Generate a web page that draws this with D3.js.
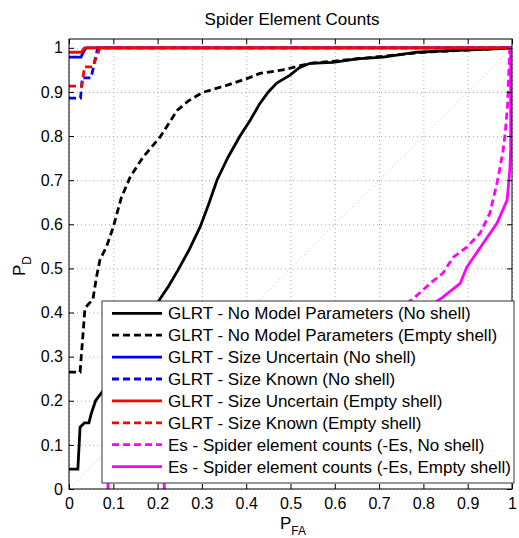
<!DOCTYPE html>
<html>
<head>
<meta charset="utf-8">
<script src="https://cdn.jsdelivr.net/npm/d3@7"></script>
<style>
  body { margin: 0; background: #fff; }
  svg { font-family: "Liberation Sans", Arial, sans-serif; }
</style>
</head>
<body>
<svg width="519" height="538"></svg>
<script>
var svg = d3.select('svg');

// tick values / labels
var xTicks = [0, 0.1, 0.2, 0.3, 0.4, 0.5, 0.6, 0.7, 0.8, 0.9, 1];
var yTicks = [0, 0.1, 0.2, 0.3, 0.4, 0.5, 0.6, 0.7, 0.8, 0.9, 1];
var xTickLabels = ['0', '0.1', '0.2', '0.3', '0.4', '0.5', '0.6', '0.7', '0.8', '0.9', '1'];
var yTickLabels = ['0', '0.1', '0.2', '0.3', '0.4', '0.5', '0.6', '0.7', '0.8', '0.9', '1'];

// ROC curves, [PFA, PD]
var glrtNoParamNoShell = [[0,0.045],[0.02,0.045],[0.025,0.14],[0.035,0.15],[0.045,0.15],[0.05,0.17],[0.06,0.2],[0.075,0.22],
  [0.14,0.33],[0.205,0.43],[0.225,0.46],[0.246,0.496],[0.27,0.54],[0.296,0.594],[0.315,0.645],[0.334,0.70],[0.359,0.752],
  [0.386,0.80],[0.409,0.836],[0.431,0.874],[0.45,0.9],[0.469,0.92],[0.499,0.938],[0.52,0.955],[0.544,0.965],[0.596,0.967],
  [0.65,0.975],[0.709,0.979],[0.785,0.99],[0.85,0.993],[0.92,0.996],[0.973,0.998],[1,1]];
var glrtNoParamEmpty = [[0,0.265],[0.025,0.265],[0.03,0.33],[0.036,0.41],[0.054,0.43],[0.062,0.48],[0.07,0.52],[0.085,0.55],
  [0.1,0.594],[0.118,0.66],[0.138,0.707],[0.167,0.752],[0.205,0.797],[0.244,0.858],[0.27,0.88],[0.302,0.899],[0.356,0.915],
  [0.409,0.933],[0.431,0.942],[0.483,0.95],[0.544,0.965],[0.6,0.97],[0.7,0.98],[0.8,0.99],[0.9,0.995],[1,1]];
var glrtSizeUncNoShell = [[0,0.979],[0.027,0.979],[0.035,0.995],[0.04,1],[1,1]];
var glrtSizeKnownNoShell = [[0,0.886],[0.026,0.886],[0.03,0.932],[0.05,0.932],[0.058,0.97],[0.065,1],[1,1]];
var glrtSizeUncEmpty = [[0,0.99],[0.028,0.99],[0.035,1],[1,1]];
var glrtSizeKnownEmpty = [[0,0.913],[0.029,0.913],[0.035,0.957],[0.054,0.957],[0.062,0.98],[0.07,1],[1,1]];
var esNoShell = [[0.088,0],[0.088,0.05],[0.7,0.37],[0.781,0.435],[0.82,0.47],[0.844,0.489],[0.867,0.525],[0.898,0.548],
  [0.928,0.58],[0.95,0.625],[0.966,0.693],[0.973,0.729],[0.98,0.768],[0.985,0.81],[0.99,0.87],[0.993,0.95],[0.995,1],[1,1]];
var esEmpty = [[0.215,0],[0.215,0.05],[0.75,0.37],[0.844,0.435],[0.883,0.466],[0.898,0.503],[0.935,0.557],[0.966,0.602],
  [0.989,0.655],[0.995,0.722],[0.997,0.768],[0.997,0.9],[0.997,1],[1,1]];

var seriesNames = [
  'GLRT - No Model Parameters (No shell)',
  'GLRT - No Model Parameters (Empty shell)',
  'GLRT - Size Uncertain (No shell)',
  'GLRT - Size Known (No shell)',
  'GLRT - Size Uncertain (Empty shell)',
  'GLRT - Size Known (Empty shell)',
  'Es - Spider element counts (-Es, No shell)',
  'Es - Spider element counts (-Es, Empty shell)'
];
var seriesData = [glrtNoParamNoShell, glrtNoParamEmpty, glrtSizeUncNoShell, glrtSizeKnownNoShell,
  glrtSizeUncEmpty, glrtSizeKnownEmpty, esNoShell, esEmpty];

// styles
var colors = ['#000', '#000', '#0000ff', '#0000ff', '#ff0000', '#ff0000', '#ff00ff', '#ff00ff'];
var dashed = [false, true, false, true, false, true, true, false];

var plotLeft = 69, plotRight = 512, plotTop = 39, plotBottom = 489;

var x = d3.scaleLinear().domain([0, 1]).range([plotLeft, plotRight]);
var y = d3.scaleLinear().domain([0, 1.02]).range([plotBottom, plotTop]);

// grid
svg.append('g')
  .attr('transform', 'translate(0,' + plotBottom + ')')
  .call(d3.axisBottom(x).tickValues(xTicks).tickSize(-(plotBottom - plotTop)).tickFormat(''))
  .call(function(g){ g.select('.domain').remove(); })
  .selectAll('line')
  .attr('stroke', '#aaa')
  .attr('stroke-dasharray', '1,3');

svg.append('g')
  .attr('transform', 'translate(' + plotLeft + ',0)')
  .call(d3.axisLeft(y).tickValues(yTicks).tickSize(-(plotRight - plotLeft)).tickFormat(''))
  .call(function(g){ g.select('.domain').remove(); })
  .selectAll('line')
  .attr('stroke', '#aaa')
  .attr('stroke-dasharray', '1,3');

// chance diagonal
svg.append('line')
  .attr('x1', x(0)).attr('y1', y(0))
  .attr('x2', x(1)).attr('y2', y(1))
  .attr('stroke', '#bbb')
  .attr('stroke-dasharray', '1,3');

svg.append('clipPath').attr('id', 'plotclip')
  .append('rect')
  .attr('x', plotLeft).attr('y', plotTop)
  .attr('width', plotRight - plotLeft).attr('height', plotBottom - plotTop);

var line = d3.line()
  .x(function(d){ return x(d[0]); })
  .y(function(d){ return y(d[1]); });

svg.append('g').attr('clip-path', 'url(#plotclip)')
  .selectAll('path')
  .data(seriesData)
  .enter()
  .append('path')
  .attr('d', line)
  .attr('fill', 'none')
  .attr('stroke', function(d, i){ return colors[i]; })
  .attr('stroke-width', 2.8)
  .attr('stroke-dasharray', function(d, i){ return dashed[i] ? '7,4' : null; });

// axes box + ticks
svg.append('rect')
  .attr('x', plotLeft).attr('y', plotTop)
  .attr('width', plotRight - plotLeft).attr('height', plotBottom - plotTop)
  .attr('fill', 'none')
  .attr('stroke', '#000');

svg.append('g')
  .attr('transform', 'translate(0,' + plotBottom + ')')
  .call(d3.axisBottom(x).tickValues(xTicks).tickSize(-5).tickPadding(9)
    .tickFormat(function(d, i){ return xTickLabels[i]; }));
svg.append('g')
  .attr('transform', 'translate(' + plotLeft + ',0)')
  .call(d3.axisLeft(y).tickValues(yTicks).tickSize(-5).tickPadding(6)
    .tickFormat(function(d, i){ return yTickLabels[i]; }));
svg.append('g')
  .attr('transform', 'translate(0,' + plotTop + ')')
  .call(d3.axisTop(x).tickValues(xTicks).tickSize(-5).tickFormat(''));
svg.append('g')
  .attr('transform', 'translate(' + plotRight + ',0)')
  .call(d3.axisRight(y).tickValues(yTicks).tickSize(-5).tickFormat(''));

svg.selectAll('.domain').remove();
svg.selectAll('.tick text')
  .attr('font-size', 16)
  .attr('font-family', '"Liberation Sans", Arial, sans-serif')
  .attr('fill', '#000');

// title + labels
svg.append('text')
  .attr('x', 292)
  .attr('y', 25)
  .attr('text-anchor', 'middle')
  .attr('font-size', 17)
  .text('Spider Element Counts');

var xl = svg.append('text')
  .attr('x', 293)
  .attr('y', 529)
  .attr('text-anchor', 'middle')
  .attr('font-size', 17);
xl.append('tspan').text('P');
xl.append('tspan').attr('font-size', 12).attr('dy', 6).text('FA');

var yl = svg.append('text')
  .attr('transform', 'translate(25,266) rotate(-90)')
  .attr('text-anchor', 'middle')
  .attr('font-size', 17);
yl.append('tspan').text('P');
yl.append('tspan').attr('font-size', 12).attr('dy', 6).text('D');

// legend
var legend = svg.append('g');
legend.append('rect')
  .attr('x', 102).attr('y', 301)
  .attr('width', 412).attr('height', 182)
  .attr('fill', '#fff')
  .attr('stroke', '#333');

var rows = legend.selectAll('g.row')
  .data(seriesNames)
  .enter()
  .append('g')
  .attr('class', 'row')
  .attr('transform', function(d, i){ return 'translate(0,' + (313.3 + i * 21.9) + ')'; });

rows.append('line')
  .attr('x1', 112).attr('x2', 162)
  .attr('stroke', function(d, i){ return colors[i]; })
  .attr('stroke-width', 2.8)
  .attr('stroke-dasharray', function(d, i){ return dashed[i] ? '7,4' : null; });

rows.append('text')
  .attr('x', 168)
  .attr('y', 6)
  .attr('font-size', 17)
  .text(function(d){ return d; });
</script>
</body>
</html>
